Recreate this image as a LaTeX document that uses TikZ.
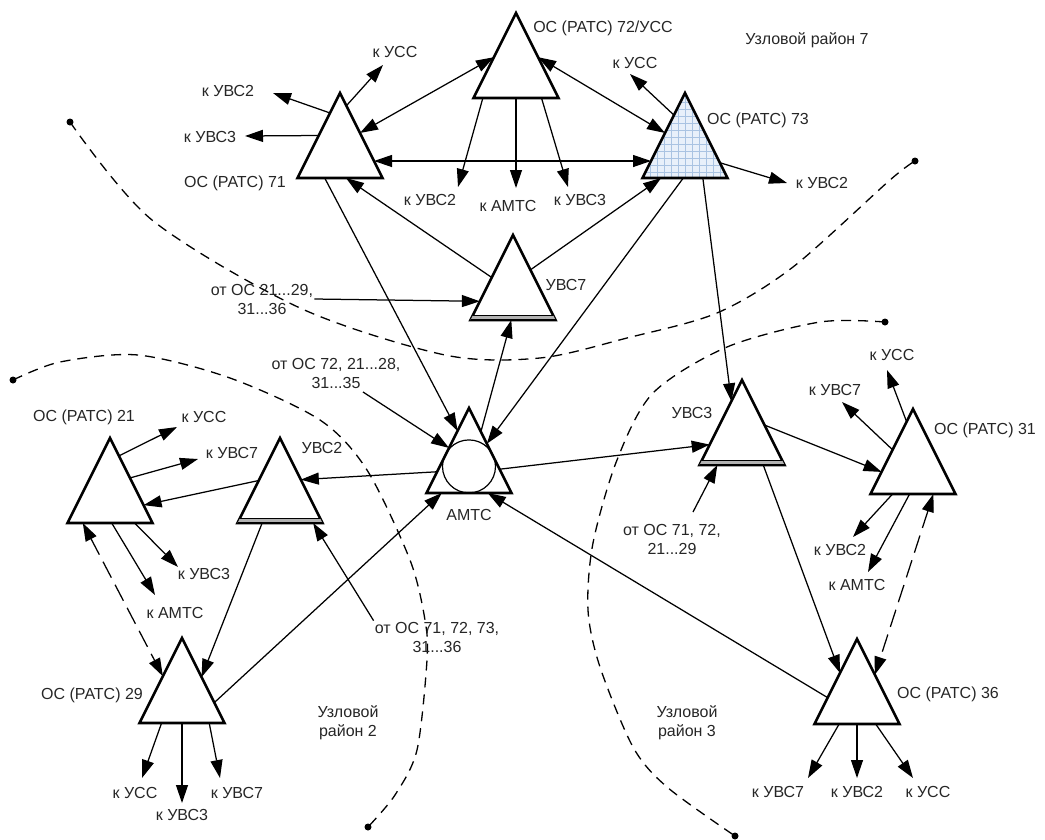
\documentclass[tikz,border=0pt]{standalone}
\usepackage{fontspec}
\setmainfont{Liberation Sans}
\usetikzlibrary{shapes.geometric,arrows.meta,calc}
\definecolor{gridblue}{HTML}{A9C3E2}
\definecolor{fillblue}{HTML}{E8F0FA}
\tikzset{
  tri/.style={draw, line width=2.6pt, isosceles triangle, isosceles triangle stretches,
    shape border rotate=90, minimum width=85pt, minimum height=85pt,
    inner sep=0pt, outer sep=0pt, anchor=apex},
  lbl/.style={font=\fontsize{16}{19}\selectfont, text=black!85, inner sep=1pt, align=center},
  arr/.style={line width=1.25pt, -{Triangle[length=18pt,width=12pt]}},
  darr/.style={line width=1.25pt, {Triangle[length=18pt,width=12pt]}-{Triangle[length=18pt,width=12pt]}},
  ddarr/.style={darr, dash pattern=on 18pt off 8pt},
  zone/.style={line width=1.3pt, dash pattern=on 10pt off 7pt},
}
\begin{document}
\begin{tikzpicture}[x=1pt,y=-1pt]
\useasboundingbox (0,0) rectangle (1045,839);
% zone borders
\draw[zone] plot[smooth] coordinates {(70,122) (152,220) (300,308) (445,355) (540,358) (627,338) (717,313) (793,267) (890,180) (915,161)};
\draw[zone] plot[smooth] coordinates {(13,380) (60,362) (138,355) (230,378) (320,420) (367,470) (410,560) (425,620) (427,660) (417,750) (395,795) (368,827)};
\draw[zone] plot[smooth] coordinates {(885,322) (820,322) (727,347) (653,393) (617,460) (593,543) (588,610) (600,667) (633,747) (667,787) (735,836)};
\fill (70,122) circle (3.5pt) (915,161) circle (3.5pt) (13,380) circle (3.5pt)
  (368,827) circle (3.5pt) (885,322) circle (3.5pt) (735,836) circle (3.5pt);

% stations
\node[tri] (t72) at (516,13) {};
\node[tri] (t71) at (340,93) {};
\node[tri, fill=fillblue, path picture={\draw[gridblue, line width=0.5pt]
  (path picture bounding box.south west) grid[step=7pt] (path picture bounding box.north east);}] (t73) at (685,93) {};
\node[tri] (u7) at (513,235) {};
\node[tri] (amts) at (469,408) {};
\node[tri] (u2) at (280,438) {};
\node[tri] (t21) at (110,438) {};
\node[tri] (t29) at (182,638) {};
\node[tri] (u3) at (742,380) {};
\node[tri] (t31) at (913,409) {};
\node[tri] (t36) at (857,639) {};
% double base of the nodes
\foreach \u in {u7,u2,u3} {
  \fill[gray!60] ($(\u.apex)!.95!(\u.left corner)$) -- ($(\u.apex)!.95!(\u.right corner)$)
    -- (\u.right corner) -- (\u.left corner) -- cycle;
  \draw[line width=1pt] ($(\u.apex)!.95!(\u.left corner)$) -- ($(\u.apex)!.95!(\u.right corner)$);
  \draw[line width=2.6pt] (\u.left corner) -- (\u.right corner);
}
\node[draw, circle, line width=1.2pt, minimum size=53pt, inner sep=0pt] (amtsc) at ($(amts.lower side)+(0,-26.6)$) {};

% names
\node[lbl] (n72) at (603,28) {ОС (РАТС) 72/УСС};
\node[lbl] (n71) at (235,183) {ОС (РАТС) 71};
\node[lbl] (n73) at (758,120) {ОС (РАТС) 73};
\node[lbl] (z7) at (807,40) {Узловой район 7};
\node[lbl] (nu7) at (566,285) {УВС7};
\node[lbl] (namts) at (469,515) {АМТС};
\node[lbl] (n21) at (84,417) {ОС (РАТС) 21};
\node[lbl] (nu2) at (322,448) {УВС2};
\node[lbl] (n29) at (92,695) {ОС (РАТС) 29};
\node[lbl] (z2) at (348,723) {Узловой\\район 2};
\node[lbl] (nu3) at (692,413) {УВС3};
\node[lbl] (n31) at (985,430) {ОС (РАТС) 31};
\node[lbl] (n36) at (948,694) {ОС (РАТС) 36};
\node[lbl] (z3) at (687,723) {Узловой\\район 3};
\node[lbl] (src7) at (262,299) {от ОС 21...29,\\31...36};
\node[lbl] (srca) at (336,373) {от ОС 72, 21...28,\\31...35};
\node[lbl] (src2) at (437,637) {от ОС 71, 72, 73,\\31...36};
\node[lbl] (src3) at (672,539) {от ОС 71, 72,\\21...29};
\coordinate (sa) at (363,392);
\coordinate (s3) at (693,512);

% links between stations
\draw[darr] ($(t72.apex)!.52!(t72.left corner)$) -- ($(t71.apex)!.47!(t71.right corner)$);
\draw[darr] ($(t71.apex)!.8!(t71.right corner)$) -- ($(t73.apex)!.8!(t73.left corner)$);
\draw[darr] ($(t72.apex)!.52!(t72.right corner)$) -- ($(t73.apex)!.47!(t73.left corner)$);
\draw[arr] ($(u7.apex)!.5!(u7.left corner)$) -- ($(t71.left corner)!.57!(t71.right corner)$);
\draw[arr] ($(u7.apex)!.41!(u7.right corner)$) -- ($(t73.left corner)!.22!(t73.right corner)$);
\draw[arr] (src7.east) -- ($(u7.apex)!.78!(u7.left corner)$);
\draw[arr] ($(t71.left corner)!.32!(t71.right corner)$) -- ($(amts.apex)!.27!(amts.left corner)$);
\draw[arr] (sa) -- ($(amts.apex)!.47!(amts.left corner)$);
\draw[arr] ($(amts.apex)!.28!(amts.right corner)$) -- ($(u7.left corner)!.48!(u7.right corner)$);
\draw[arr] ($(t73.left corner)!.48!(t73.right corner)$) -- ($(amts.apex)!.42!(amts.right corner)$);
\draw[arr] ($(t73.left corner)!.71!(t73.right corner)$) -- ($(u3.apex)!.25!(u3.left corner)$);
\draw[arr] ($(amts.apex)!.72!(amts.right corner)$) -- ($(u3.apex)!.76!(u3.left corner)$);
\draw[arr] ($(amts.apex)!.75!(amts.left corner)$) -- ($(u2.apex)!.49!(u2.right corner)$);
\draw[arr] ($(u2.apex)!.5!(u2.left corner)$) -- ($(t21.apex)!.79!(t21.right corner)$);
\draw[ddarr] ($(t21.left corner)!.18!(t21.right corner)$) -- ($(t29.apex)!.45!(t29.left corner)$);
\draw[arr] ($(u2.left corner)!.29!(u2.right corner)$) -- ($(t29.apex)!.46!(t29.right corner)$);
\draw[arr] (src2.north west) -- ($(u2.left corner)!.89!(u2.right corner)$);
\draw[arr] ($(t29.apex)!.76!(t29.right corner)$) -- ($(amts.left corner)!.18!(amts.right corner)$);
\draw[arr] ($(t36.apex)!.69!(t36.left corner)$) -- ($(amts.left corner)!.72!(amts.right corner)$);
\draw[arr] ($(u3.apex)!.53!(u3.right corner)$) -- ($(t31.apex)!.74!(t31.left corner)$);
\draw[ddarr] ($(t31.left corner)!.74!(t31.right corner)$) -- ($(t36.apex)!.42!(t36.right corner)$);
\draw[arr] ($(u3.left corner)!.75!(u3.right corner)$) -- ($(t36.apex)!.4!(t36.left corner)$);
\draw[arr] (s3) -- ($(u3.left corner)!.21!(u3.right corner)$);

% outgoing links of 72, 71, 73
\coordinate (e72a) at (458,187);
\coordinate (e72b) at (516,188);
\coordinate (e72c) at (568,187);
\draw[arr] ($(t72.left corner)!.11!(t72.right corner)$) -- (e72a);
\draw[arr] (t72.lower side) -- (e72b);
\draw[arr] ($(t72.left corner)!.8!(t72.right corner)$) -- (e72c);
\node[lbl] (k72a) at (430,200) {к УВС2};
\node[lbl] (k72b) at (508,206) {к АМТС};
\node[lbl] (k72c) at (580,200) {к УВС3};
\coordinate (e71a) at (383,65);
\coordinate (e71b) at (273,93);
\coordinate (e71c) at (245,136);
\draw[arr] ($(t71.apex)!.15!(t71.right corner)$) -- (e71a);
\draw[arr] ($(t71.apex)!.235!(t71.left corner)$) -- (e71b);
\draw[arr] ($(t71.apex)!.5!(t71.left corner)$) -- (e71c);
\node[lbl] (k71a) at (395,52) {к УСС};
\node[lbl] (k71b) at (228,91) {к УВС2};
\node[lbl] (k71c) at (210,137) {к УВС3};
\coordinate (e73a) at (630,74);
\coordinate (e73b) at (787,183);
\draw[arr] ($(t73.apex)!.26!(t73.left corner)$) -- (e73a);
\draw[arr] ($(t73.apex)!.82!(t73.right corner)$) -- (e73b);
\node[lbl] (k73a) at (635,63) {к УСС};
\node[lbl] (k73b) at (822,183) {к УВС2};

% outgoing links of 21, 29
\coordinate (e21a) at (177,427);
\coordinate (e21b) at (198,459);
\coordinate (e21c) at (178,567);
\coordinate (e21d) at (155,595);
\draw[arr] ($(t21.apex)!.21!(t21.right corner)$) -- (e21a);
\draw[arr] ($(t21.apex)!.47!(t21.right corner)$) -- (e21b);
\draw[arr] ($(t21.left corner)!.79!(t21.right corner)$) -- (e21c);
\draw[arr] ($(t21.left corner)!.52!(t21.right corner)$) -- (e21d);
\node[lbl] (k21a) at (204,417) {к УСС};
\node[lbl] (k21b) at (232,453) {к УВС7};
\node[lbl] (k21c) at (204,574) {к УВС3};
\node[lbl] (k21d) at (175,613) {к АМТС};
\coordinate (e29a) at (142,778);
\coordinate (e29b) at (182,803);
\coordinate (e29c) at (220,778);
\draw[arr] ($(t29.left corner)!.26!(t29.right corner)$) -- (e29a);
\draw[arr] (t29.lower side) -- (e29b);
\draw[arr] ($(t29.left corner)!.82!(t29.right corner)$) -- (e29c);
\node[lbl] (k29a) at (135,793) {к УСС};
\node[lbl] (k29b) at (182,815) {к УВС3};
\node[lbl] (k29c) at (237,793) {к УВС7};

% outgoing links of 31, 36
\coordinate (e31a) at (887,370);
\coordinate (e31b) at (842,402);
\coordinate (e31c) at (853,537);
\coordinate (e31d) at (868,572);
\draw[arr] ($(t31.apex)!.15!(t31.left corner)$) -- (e31a);
\draw[arr] ($(t31.apex)!.48!(t31.left corner)$) -- (e31b);
\draw[arr] ($(t31.left corner)!.26!(t31.right corner)$) -- (e31c);
\draw[arr] ($(t31.left corner)!.46!(t31.right corner)$) -- (e31d);
\node[lbl] (k31a) at (892,355) {к УСС};
\node[lbl] (k31b) at (835,390) {к УВС7};
\node[lbl] (k31c) at (840,550) {к УВС2};
\node[lbl] (k31d) at (857,585) {к АМТС};
\coordinate (e36a) at (808,778);
\coordinate (e36b) at (857,778);
\coordinate (e36c) at (913,778);
\draw[arr] ($(t36.left corner)!.29!(t36.right corner)$) -- (e36a);
\draw[arr] (t36.lower side) -- (e36b);
\draw[arr] ($(t36.left corner)!.72!(t36.right corner)$) -- (e36c);
\node[lbl] (k36a) at (778,792) {к УВС7};
\node[lbl] (k36b) at (857,792) {к УВС2};
\node[lbl] (k36c) at (928,792) {к УСС};
\end{tikzpicture}
\end{document}
